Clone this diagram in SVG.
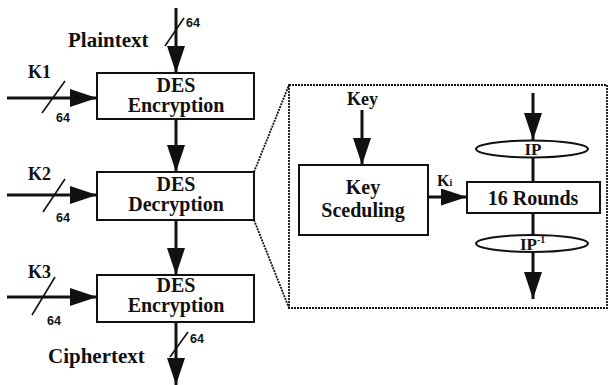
<svg xmlns="http://www.w3.org/2000/svg" width="609" height="385" viewBox="0 0 609 385">
  <style>
    .box { fill: #ffffff; stroke: #111; stroke-width: 2; }
    .ell { fill: #ffffff; stroke: #111; stroke-width: 2; }
    .wire { stroke: #111; stroke-width: 3; fill: none; }
    .slash { stroke: #111; stroke-width: 1.6; fill: none; }
    .dot { stroke: #111; stroke-width: 1.8; fill: none; stroke-dasharray: 2 1; }
    .t { font-family: "Liberation Serif", "Times New Roman", serif; font-weight: bold; fill: #111; }
    .bt { font-size: 20px; text-anchor: middle; }
    .lbl { font-size: 21px; }
    .k { font-size: 18px; }
    .w { font-family: "Liberation Sans", Arial, sans-serif; font-weight: bold; font-size: 12.5px; fill: #111; }
  </style>
  <defs>
    <marker id="head" markerUnits="userSpaceOnUse" markerWidth="28" markerHeight="20" refX="27" refY="9" orient="auto">
      <path d="M0,0 L27,9 L0,18 Z" fill="#111"/>
    </marker>
    <marker id="headS" markerUnits="userSpaceOnUse" markerWidth="28" markerHeight="20" refX="26" refY="8.5" orient="auto">
      <path d="M0,0 L26,8.5 L0,17 Z" fill="#111"/>
    </marker>
  </defs>

  <!-- wiring between the blocks -->
  <g id="connectors">
    <line class="wire" x1="176" y1="8" x2="176" y2="73" marker-end="url(#head)"/>
    <line class="wire" x1="176" y1="119" x2="176" y2="172" marker-end="url(#head)"/>
    <line class="wire" x1="176" y1="220" x2="176" y2="275" marker-end="url(#head)"/>
    <line class="wire" x1="176" y1="322" x2="176" y2="385" marker-end="url(#head)"/>
    <line class="wire" x1="7" y1="98" x2="97" y2="98" marker-end="url(#head)"/>
    <line class="wire" x1="7" y1="195" x2="97" y2="195" marker-end="url(#head)"/>
    <line class="wire" x1="7" y1="297" x2="97" y2="297" marker-end="url(#head)"/>

    <!-- bus width slashes -->
    <line class="slash" x1="165" y1="46" x2="184" y2="18"/>
    <line class="slash" x1="170" y1="357" x2="188" y2="332"/>
    <line class="slash" x1="42" y1="113" x2="65" y2="81"/>
    <line class="slash" x1="43" y1="212" x2="65" y2="179"/>
    <line class="slash" x1="32" y1="315" x2="55" y2="277"/>

    <!-- zoom outline from the decryption stage -->
    <line class="dot" x1="254" y1="172" x2="289" y2="85"/>
    <line class="dot" x1="254" y1="220" x2="289" y2="308"/>
    <rect class="dot" x="289" y="85" width="318" height="223"/>

    <!-- internal DES structure -->
    <line class="wire" x1="362" y1="110" x2="362" y2="165" marker-end="url(#head)"/>
    <line class="wire" x1="428" y1="197" x2="467" y2="197" marker-end="url(#headS)"/>
    <line class="wire" x1="533" y1="93" x2="533" y2="140" marker-end="url(#head)"/>
    <line class="wire" x1="533" y1="157" x2="533" y2="182"/>
    <line class="wire" x1="533" y1="213" x2="533" y2="235"/>
    <line class="wire" x1="533" y1="252" x2="533" y2="299" marker-end="url(#head)"/>
  </g>

  <g id="enc1">
    <rect class="box" x="97" y="73" width="157" height="46"/>
    <text class="t bt" x="176" y="92">DES</text>
    <text class="t bt" x="176" y="112">Encryption</text>
  </g>
  <g id="dec2">
    <rect class="box" x="97" y="172" width="157" height="48"/>
    <text class="t bt" x="176" y="191">DES</text>
    <text class="t bt" x="176" y="211">Decryption</text>
  </g>
  <g id="enc3">
    <rect class="box" x="97" y="275" width="157" height="47"/>
    <text class="t bt" x="176" y="292">DES</text>
    <text class="t bt" x="176" y="312">Encryption</text>
  </g>

  <g id="keysched">
    <rect class="box" x="299" y="165" width="129" height="70"/>
    <text class="t bt" x="363" y="194">Key</text>
    <text class="t bt" x="363" y="217">Sceduling</text>
  </g>
  <g id="rounds">
    <rect class="box" x="467" y="182" width="133" height="31"/>
    <text class="t bt" x="533" y="205">16 Rounds</text>
  </g>
  <g id="ip">
    <ellipse class="ell" cx="532" cy="149" rx="56" ry="8.5"/>
    <text class="t bt" x="533" y="155" style="font-size:17px">IP</text>
  </g>
  <g id="ipinv">
    <ellipse class="ell" cx="532" cy="243.5" rx="56" ry="8.5"/>
    <text class="t" x="520" y="250" style="font-size:17px">IP<tspan dy="-7" font-size="10">-1</tspan></text>
  </g>

  <g id="labels">
    <text class="t lbl" x="68" y="47">Plaintext</text>
    <text class="t lbl" x="48" y="363">Ciphertext</text>
    <text class="t k" x="28" y="78">K1</text>
    <text class="t k" x="28" y="180">K2</text>
    <text class="t k" x="28" y="278">K3</text>
    <text class="t k" x="347" y="105">Key</text>
    <text class="t" x="437" y="186" style="font-size:16px">K<tspan font-size="10">i</tspan></text>
    <text class="w" x="186" y="27">64</text>
    <text class="w" x="190" y="343">64</text>
    <text class="w" x="56" y="122">64</text>
    <text class="w" x="56" y="222">64</text>
    <text class="w" x="47" y="325">64</text>
  </g>
</svg>
